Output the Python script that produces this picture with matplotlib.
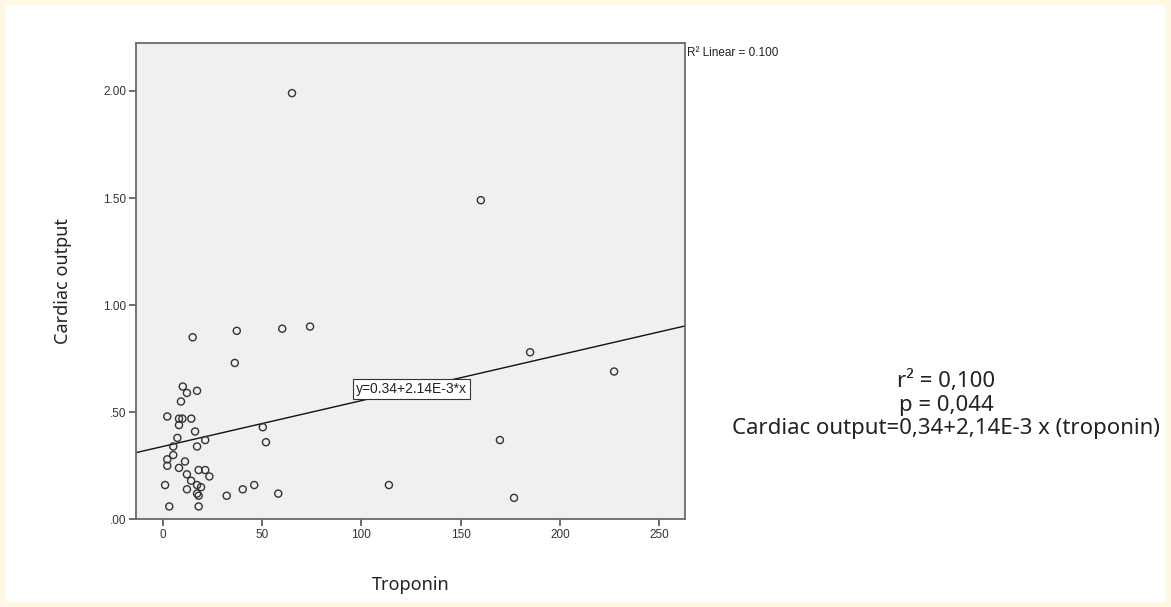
"""Scatter plot of cardiac output against troponin with linear fit."""

import matplotlib
matplotlib.use("Agg")
import matplotlib.pyplot as plt
from matplotlib.patches import Rectangle

# Data
troponin = [
    15.1, 37.3, 60.2, 74.2, 36.3, 10.1, 12.2, 17.3, 9.2, 2.3,
    8.2, 9.9, 14.4, 8.2, 16.3, 7.4, 21.4, 5.3, 17.3, 5.3,
    2.3, 2.3, 11.2, 8.2, 18.1, 21.4, 23.5, 12.2, 14.3, 1.2,
    12.2, 17.3, 19.3, 17.3, 18.1, 32.2, 40.3, 46.1, 58.2, 3.3,
    18.1, 50.4, 52.0, 65.1, 160.2, 185.0, 227.3, 169.8, 176.9, 113.9,
]
cardiac_output = [
    0.85, 0.88, 0.89, 0.90, 0.73, 0.62, 0.59, 0.60, 0.55, 0.48,
    0.47, 0.47, 0.47, 0.44, 0.41, 0.38, 0.37, 0.34, 0.34, 0.30,
    0.28, 0.25, 0.27, 0.24, 0.23, 0.23, 0.20, 0.21, 0.18, 0.16,
    0.14, 0.16, 0.15, 0.12, 0.11, 0.11, 0.14, 0.16, 0.12, 0.06,
    0.06, 0.43, 0.36, 1.99, 1.49, 0.78, 0.69, 0.37, 0.10, 0.16,
]
fit_intercept = 0.34
fit_slope = 2.14e-3
x_ticks = [0, 50, 100, 150, 200, 250]
y_ticks = [0.0, 0.5, 1.0, 1.5, 2.0]
y_tick_labels = [".00", ".50", "1.00", "1.50", "2.00"]
stats_lines = [
    "r² = 0,100",
    "p = 0,044",
    "Cardiac output=0,34+2,14E-3 x (troponin)",
]

W, H = 1171, 607
fig = plt.figure(figsize=(W / 100, H / 100), dpi=100, facecolor="#FFF9E3")

# White panel inside the cream frame (kept behind the axes)
fig.patches.append(
    Rectangle((6 / W, 5 / H), 1 - 12 / W, 1 - 10 / H,
              transform=fig.transFigure, facecolor="white",
              edgecolor="none", zorder=-10)
)

ax = fig.add_axes([135.7 / W, 87.7 / H, (685 - 135.7) / W, (519.3 - 43) / H])
ax.set_facecolor("#F0F0F0")
ax.set_xlim(-13.6, 263)
ax.set_ylim(0, 2.224)

# Scatter points
ax.scatter(troponin, cardiac_output, s=26, facecolors="none",
           edgecolors="#333333", linewidths=1.0, zorder=3)

# Linear fit across the full x range
x0, x1 = ax.get_xlim()
ax.plot([x0, x1], [fit_intercept + fit_slope * x0, fit_intercept + fit_slope * x1],
        color="#111111", linewidth=1.0, zorder=2)

ax.text(125.4, 0.608, f"y={fit_intercept}+{fit_slope * 1000:.2f}E-3*x",
        ha="center", va="center", fontsize=10, family="Liberation Sans",
        color="#222222", zorder=4,
        bbox=dict(boxstyle="square,pad=0.2", facecolor="white",
                  edgecolor="#333333", linewidth=0.8))

ax.text(1.003, 0.978, "R² Linear = 0.100", transform=ax.transAxes,
        ha="left", va="center", fontsize=8.5, family="Liberation Sans",
        color="#222222")

# Axes styling
for spine in ax.spines.values():
    spine.set_color("#6a6a6a")
    spine.set_linewidth(1.3)
ax.set_xticks(x_ticks)
ax.set_yticks(y_ticks)
ax.set_yticklabels(y_tick_labels)
ax.tick_params(direction="out", length=5, width=1.2, color="#555555",
               labelsize=8.5, labelcolor="#333333", pad=2)
for lbl in ax.get_xticklabels() + ax.get_yticklabels():
    lbl.set_family("Liberation Sans")

ax.set_xlabel("Troponin", fontsize=13, family="Noto Sans", color="#222222",
              labelpad=25)
ax.set_ylabel("Cardiac output", fontsize=13, family="Noto Sans",
              color="#222222", labelpad=22)

# Statistics text to the right of the plot
for i, line in enumerate(stats_lines):
    fig.text(946 / W, 1 - (381.5 + 23.5 * i) / H, line, ha="center",
             va="center", fontsize=16, family="Noto Sans", color="#222222")

fig.savefig("out.png", dpi=100, facecolor=fig.get_facecolor())
